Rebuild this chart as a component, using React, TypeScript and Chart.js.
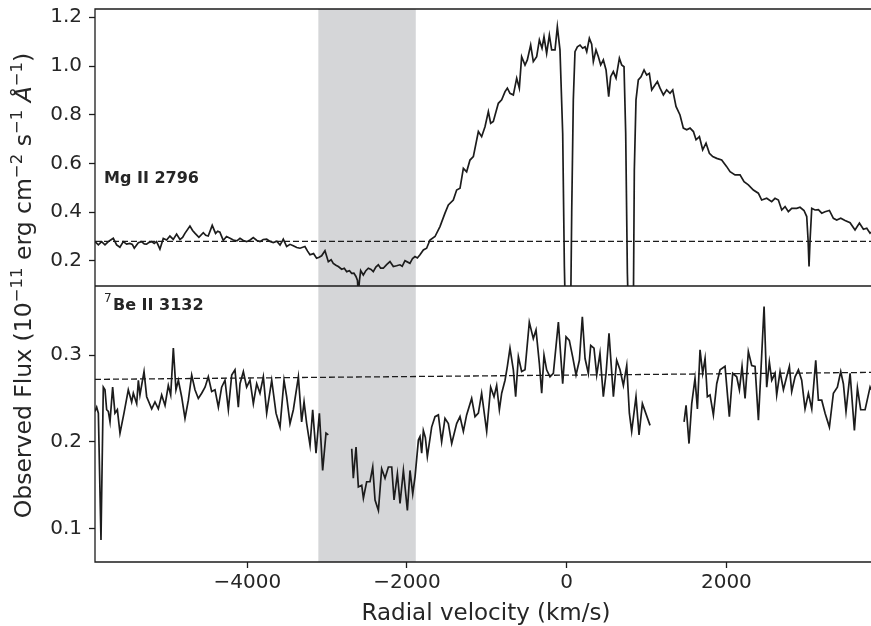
import React, { useEffect, useRef } from "react";
import { Chart, registerables } from "chart.js";

Chart.register(...registerables);

// Mg II 2796 profile (top panel)
const mgVel = [
  -5907, -5865, -5824, -5782, -5750, -5720, -5678, -5636, -5595, -5553, -5511, -5470, -5440, -5415, -5365,
  -5324, -5290, -5261, -5230, -5198, -5165, -5136, -5094, -5052, -5010, -4969, -4927, -4885, -4843, -4810,
  -4781, -4718, -4685, -4656, -4606, -4551, -4520, -4489, -4439, -4397, -4370, -4343, -4301, -4260, -4216,
  -4175, -4130, -4091, -4050, -4008, -3965, -3925, -3880, -3841, -3800, -3757, -3715, -3674, -3630, -3590,
  -3549, -3507, -3465, -3424, -3380, -3340, -3278, -3245, -3215, -3170, -3132, -3100, -3069, -3027, -2985,
  -2950, -2923, -2890, -2860, -2818, -2785, -2755, -2720, -2693, -2665, -2639, -2620, -2610, -2595, -2580,
  -2547, -2515, -2484, -2450, -2422, -2390, -2359, -2330, -2297, -2255, -2213, -2171, -2130, -2088, -2060,
  -2025, -1963, -1930, -1900, -1870, -1837, -1795, -1754, -1712, -1649, -1587, -1524, -1482, -1420, -1378,
  -1336, -1294, -1253, -1211, -1169, -1106, -1065, -1023, -981, -952, -919, -856, -814, -772, -743,
  -710, -668, -626, -593, -564, -522, -493, -451, -418, -376, -342, -309, -284, -251, -217,
  -188, -146, -117, -84, -50, -29, -17, 50, 63, 83, 104, 134, 167, 200, 230,
  251, 284, 313, 334, 367, 397, 426, 459, 493, 526, 551, 584, 618, 660, 689,
  718, 739, 760, 772, 835, 847, 868, 897, 931, 969, 1002, 1035, 1065, 1106, 1136,
  1169, 1211, 1252, 1294, 1328, 1369, 1419, 1461, 1503, 1545, 1587, 1620, 1662, 1703, 1745,
  1787, 1829, 1879, 1941, 2004, 2046, 2108, 2171, 2221, 2275, 2338, 2400, 2442, 2505, 2567,
  2609, 2651, 2693, 2735, 2776, 2818, 2881, 2922, 2972, 3006, 3023, 3035, 3048, 3069, 3110,
  3152, 3194, 3235, 3290, 3340, 3382, 3432, 3486, 3549, 3611, 3666, 3716, 3758, 3799, 3811,
];
const mgFlux = [
  0.279, 0.266, 0.279, 0.266, 0.276, 0.284, 0.293, 0.266, 0.256, 0.279, 0.269, 0.272, 0.268, 0.252, 0.275,
  0.279, 0.27, 0.269, 0.276, 0.279, 0.272, 0.279, 0.248, 0.292, 0.286, 0.302, 0.288, 0.31, 0.288, 0.296,
  0.313, 0.343, 0.325, 0.314, 0.297, 0.316, 0.305, 0.302, 0.346, 0.313, 0.322, 0.318, 0.284, 0.3, 0.293,
  0.286, 0.282, 0.293, 0.284, 0.279, 0.286, 0.296, 0.284, 0.279, 0.288, 0.289, 0.28, 0.275, 0.281, 0.265,
  0.289, 0.259, 0.268, 0.262, 0.255, 0.252, 0.259, 0.24, 0.225, 0.23, 0.211, 0.215, 0.221, 0.242, 0.197,
  0.205, 0.19, 0.182, 0.177, 0.166, 0.17, 0.156, 0.16, 0.149, 0.15, 0.136, 0.12, 0.06, 0.12, 0.16,
  0.142, 0.16, 0.17, 0.165, 0.156, 0.175, 0.184, 0.17, 0.17, 0.185, 0.197, 0.177, 0.18, 0.184, 0.178,
  0.201, 0.19, 0.21, 0.218, 0.212, 0.225, 0.245, 0.252, 0.286, 0.3, 0.341, 0.396, 0.43, 0.45, 0.491,
  0.498, 0.58, 0.566, 0.614, 0.628, 0.731, 0.71, 0.751, 0.813, 0.765, 0.772, 0.847, 0.861, 0.895, 0.909,
  0.888, 0.881, 0.95, 0.909, 1.038, 1.004, 1.025, 1.086, 1.018, 1.038, 1.107, 1.073, 1.12, 1.052, 1.127,
  1.066, 1.066, 1.161, 1.066, 0.724, 0.177, 0.0, 0.0, 0.4, 0.861, 1.059, 1.079, 1.086, 1.073, 1.079,
  1.059, 1.114, 1.09, 1.018, 1.066, 1.038, 1.004, 1.025, 0.984, 0.874, 0.956, 0.977, 0.95, 1.032, 1.004,
  0.997, 0.724, 0.15, 0.0, 0.0, 0.57, 0.861, 0.943, 0.956, 0.984, 0.963, 0.97, 0.902, 0.922, 0.936,
  0.909, 0.881, 0.902, 0.888, 0.902, 0.834, 0.799, 0.745, 0.738, 0.745, 0.731, 0.697, 0.71, 0.656, 0.683,
  0.642, 0.628, 0.621, 0.614, 0.587, 0.566, 0.553, 0.553, 0.525, 0.512, 0.491, 0.478, 0.45, 0.457, 0.443,
  0.457, 0.45, 0.409, 0.423, 0.402, 0.416, 0.416, 0.42, 0.407, 0.382, 0.286, 0.177, 0.286, 0.416, 0.409,
  0.41, 0.396, 0.402, 0.407, 0.375, 0.368, 0.375, 0.366, 0.357, 0.327, 0.355, 0.33, 0.334, 0.314, 0.318,
];

// 7Be II 3132 profile (bottom panel), null = no data
const beVel = [
  -5907, -5886, -5865, -5832, -5803, -5782, -5761, -5740, -5719, -5686, -5657, -5627, -5594, -5544, -5490,
  -5448, -5427, -5385, -5364, -5344, -5293, -5260, -5197, -5156, -5114, -5072, -5030, -4989, -4959, -4926,
  -4893, -4863, -4822, -4780, -4738, -4696, -4655, -4613, -4571, -4529, -4488, -4446, -4404, -4362, -4321,
  -4279, -4237, -4195, -4154, -4112, -4091, -4049, -4008, -3966, -3924, -3882, -3841, -3799, -3757, -3694,
  -3640, -3590, -3540, -3507, -3465, -3423, -3360, -3319, -3289, -3256, -3214, -3181, -3139, -3097, -3056,
  -3014, -2985, -2850, -2692, -2672, -2638, -2609, -2567, -2546, -2505, -2463, -2429, -2400, -2358, -2317,
  -2275, -2233, -2191, -2162, -2120, -2087, -2045, -1995, -1962, -1928, -1899, -1857, -1837, -1816, -1795,
  -1770, -1745, -1691, -1649, -1607, -1566, -1524, -1482, -1440, -1378, -1336, -1294, -1253, -1190, -1148,
  -1106, -1065, -1002, -952, -910, -877, -843, -814, -772, -743, -710, -668, -639, -605, -564,
  -522, -468, -418, -384, -342, -313, -284, -251, -209, -167, -104, -50, -8, 33, 75,
  117, 159, 196, 230, 271, 301, 342, 376, 417, 459, 493, 530, 585, 626, 668,
  710, 752, 785, 814, 868, 906, 948, 1044, 1250, 1470, 1495, 1532, 1566, 1607, 1637,
  1670, 1703, 1733, 1762, 1795, 1837, 1879, 1921, 1983, 2037, 2079, 2129, 2163, 2196, 2234,
  2275, 2317, 2359, 2401, 2430, 2472, 2505, 2538, 2568, 2609, 2630, 2672, 2714, 2755, 2789,
  2818, 2860, 2902, 2943, 2985, 3027, 3069, 3119, 3152, 3194, 3236, 3290, 3340, 3390, 3432,
  3465, 3498, 3549, 3603, 3641, 3682, 3737, 3799, 3811,
];
const beFlux = [
  0.235, 0.24, 0.233, 0.087, 0.263, 0.26, 0.237, 0.235, 0.223, 0.263, 0.233, 0.237, 0.21, 0.233, 0.26,
  0.246, 0.256, 0.244, 0.271, 0.254, 0.281, 0.252, 0.238, 0.246, 0.238, 0.254, 0.242, 0.265, 0.254, 0.308,
  0.26, 0.271, 0.252, 0.227, 0.248, 0.277, 0.26, 0.25, 0.256, 0.263, 0.275, 0.258, 0.26, 0.24, 0.263,
  0.271, 0.237, 0.277, 0.283, 0.24, 0.267, 0.281, 0.263, 0.271, 0.244, 0.267, 0.256, 0.275, 0.233, 0.271,
  0.233, 0.217, 0.271, 0.252, 0.221, 0.237, 0.275, 0.223, 0.246, 0.221, 0.196, 0.237, 0.187, 0.233, 0.167,
  0.21, 0.208, null, 0.192, 0.158, 0.194, 0.148, 0.15, 0.135, 0.154, 0.154, 0.171, 0.133, 0.121, 0.169,
  0.158, 0.171, 0.171, 0.133, 0.163, 0.129, 0.167, 0.121, 0.167, 0.14, 0.16, 0.202, 0.206, 0.187, 0.213,
  0.205, 0.183, 0.217, 0.229, 0.231, 0.2, 0.227, 0.221, 0.198, 0.221, 0.229, 0.212, 0.231, 0.25, 0.229,
  0.233, 0.256, 0.212, 0.263, 0.252, 0.265, 0.237, 0.256, 0.271, 0.287, 0.308, 0.283, 0.252, 0.298, 0.281,
  0.283, 0.338, 0.319, 0.329, 0.29, 0.256, 0.3, 0.283, 0.275, 0.279, 0.338, 0.267, 0.321, 0.317, 0.298,
  0.277, 0.294, 0.344, 0.296, 0.279, 0.311, 0.308, 0.277, 0.302, 0.252, 0.279, 0.325, 0.252, 0.294, 0.283,
  0.265, 0.288, 0.233, 0.212, 0.252, 0.208, 0.244, 0.219, null, 0.223, 0.242, 0.198, 0.244, 0.273, 0.238,
  0.306, 0.279, 0.296, 0.252, 0.254, 0.231, 0.267, 0.283, 0.287, 0.229, 0.279, 0.275, 0.26, 0.287, 0.25,
  0.304, 0.288, 0.287, 0.225, 0.277, 0.356, 0.263, 0.292, 0.271, 0.279, 0.254, 0.281, 0.26, 0.275, 0.287,
  0.258, 0.275, 0.283, 0.271, 0.238, 0.256, 0.238, 0.294, 0.248, 0.248, 0.233, 0.217, 0.256, 0.263, 0.281,
  0.267, 0.235, 0.279, 0.213, 0.262, 0.237, 0.237, 0.263, 0.26,
];

const velRange = [-5907, 3811];
const mgRange = [0.097, 1.234];
const beRange = [0.0615, 0.3796];
const mgContinuum = [0.28, 0.28];
const beContinuum = [0.272, 0.28];
const shadeRange = [-3110, -1890];
const velTicks = [-4000, -2000, 0, 2000];
const mgTicks = [0.2, 0.4, 0.6, 0.8, 1.0, 1.2];
const beTicks = [0.1, 0.2, 0.3];

const INK = "#262626";
const LINE = "#1c1c1c";
const FONT = "'DejaVu Sans', sans-serif";

const yTitleParts = [
  { text: "Observed Flux (10", sup: false, italic: false },
  { text: "\u221211", sup: true, italic: false },
  { text: " erg cm", sup: false, italic: false },
  { text: "\u22122", sup: true, italic: false },
  { text: " s", sup: false, italic: false },
  { text: "\u22121", sup: true, italic: false },
  { text: " ", sup: false, italic: false },
  { text: "\u00c5", sup: false, italic: true },
  { text: "\u22121", sup: true, italic: false },
  { text: ")", sup: false, italic: false },
];

const decorations = {
  id: "decorations",
  beforeDatasetsDraw(chart: any) {
    const { ctx, chartArea, scales } = chart;
    const l = scales.x.getPixelForValue(shadeRange[0]);
    const r = scales.x.getPixelForValue(shadeRange[1]);
    ctx.save();
    ctx.fillStyle = "#d5d6d8";
    ctx.fillRect(l, chartArea.top, r - l, chartArea.bottom - chartArea.top);
    ctx.restore();
  },
  afterDraw(chart: any) {
    const { ctx, chartArea, scales } = chart;
    const { left, right, top, bottom } = chartArea;
    const topPanel = scales.yMg.top <= scales.yBe.top ? scales.yMg : scales.yBe;
    const lowPanel = topPanel === scales.yMg ? scales.yBe : scales.yMg;
    const mid = topPanel.bottom;

    ctx.save();
    ctx.strokeStyle = LINE;
    ctx.lineWidth = 1.3;
    ctx.beginPath();
    ctx.moveTo(left, top);
    ctx.lineTo(right, top);
    ctx.moveTo(left, mid);
    ctx.lineTo(right, mid);
    ctx.moveTo(left, bottom);
    ctx.lineTo(right, bottom);
    ctx.moveTo(left, top - 0.65);
    ctx.lineTo(left, bottom + 0.65);
    ctx.stroke();

    // panel labels
    ctx.fillStyle = INK;
    ctx.textBaseline = "alphabetic";
    ctx.textAlign = "left";
    ctx.font = `bold 16px ${FONT}`;
    ctx.fillText("Mg II 2796", left + 9, topPanel.top + 174);
    ctx.font = `12px ${FONT}`;
    ctx.fillText("7", left + 9, lowPanel.top + 16);
    ctx.font = `bold 16px ${FONT}`;
    ctx.fillText("Be II 3132", left + 18, lowPanel.top + 24);

    // x title
    ctx.font = `23px ${FONT}`;
    ctx.textAlign = "center";
    ctx.fillText("Radial velocity (km/s)", (left + right) / 2 + 3, 620);

    // y title with superscripts
    const main = 23.5;
    const small = 16.5;
    const fontFor = (p: any) =>
      `${p.italic ? "italic " : ""}${p.sup ? small : main}px ${FONT}`;
    let total = 0;
    for (const p of yTitleParts) {
      ctx.font = fontFor(p);
      total += ctx.measureText(p.text).width;
    }
    ctx.translate(31, (top + bottom) / 2);
    ctx.rotate(-Math.PI / 2);
    ctx.textAlign = "left";
    let x = -total / 2;
    for (const p of yTitleParts) {
      ctx.font = fontFor(p);
      ctx.fillText(p.text, x, p.sup ? -9 : 0);
      x += ctx.measureText(p.text).width;
    }
    ctx.restore();
  },
};

const fmtVel = (v: number) => (v < 0 ? "\u2212" + Math.abs(v) : String(v));

const axisGrid = {
  drawOnChartArea: false,
  drawTicks: true,
  tickLength: 6,
  tickWidth: 1.3,
  color: LINE,
};

const fitY = (s: any) => {
  s.width = 95;
  s.paddingTop = 0;
  s.paddingBottom = 0;
};

const App = () => {
  const canvasRef = useRef<HTMLCanvasElement | null>(null);

  useEffect(() => {
    if (!canvasRef.current) return;
    const mgPoints = mgVel.map((v, i) => ({ x: v, y: mgFlux[i] }));
    const bePoints = beVel.map((v, i) => ({ x: v, y: beFlux[i] }));
    const chart = new Chart(canvasRef.current, {
      type: "line",
      data: {
        datasets: [
          {
            data: mgPoints,
            yAxisID: "yMg",
            borderColor: LINE,
            borderWidth: 1.7,
            pointRadius: 0,
            tension: 0,
            spanGaps: false,
          },
          {
            data: velRange.map((v, i) => ({ x: v, y: mgContinuum[i] })),
            yAxisID: "yMg",
            borderColor: LINE,
            borderWidth: 1.3,
            borderDash: [6, 3],
            pointRadius: 0,
          },
          {
            data: bePoints,
            yAxisID: "yBe",
            borderColor: LINE,
            borderWidth: 1.7,
            pointRadius: 0,
            tension: 0,
            spanGaps: false,
          },
          {
            data: velRange.map((v, i) => ({ x: v, y: beContinuum[i] })),
            yAxisID: "yBe",
            borderColor: LINE,
            borderWidth: 1.3,
            borderDash: [6, 3],
            pointRadius: 0,
          },
        ],
      },
      options: {
        animation: false,
        responsive: true,
        maintainAspectRatio: false,
        parsing: false,
        layout: { padding: { top: 9, right: 0, bottom: 0, left: 0 } },
        plugins: {
          legend: { display: false },
          tooltip: { enabled: false },
        },
        scales: {
          x: {
            type: "linear",
            position: "bottom",
            min: velRange[0],
            max: velRange[1],
            afterBuildTicks: (s: any) => {
              s.ticks = velTicks.map((v) => ({ value: v }));
            },
            afterFit: (s: any) => {
              s.height = 64;
              s.paddingLeft = 0;
              s.paddingRight = 0;
            },
            ticks: {
              color: INK,
              font: { family: FONT, size: 20 },
              padding: 3,
              maxRotation: 0,
              callback: (v: any) => fmtVel(Number(v)),
            },
            grid: axisGrid,
            border: { display: false },
          },
          yBe: {
            type: "linear",
            position: "left",
            stack: "panels",
            stackWeight: 276,
            min: beRange[0],
            max: beRange[1],
            afterBuildTicks: (s: any) => {
              s.ticks = beTicks.map((v) => ({ value: v }));
            },
            afterFit: fitY,
            ticks: {
              color: INK,
              font: { family: FONT, size: 20 },
              padding: 7,
              callback: (v: any) => Number(v).toFixed(1),
            },
            grid: axisGrid,
            border: { display: false },
          },
          yMg: {
            type: "linear",
            position: "left",
            stack: "panels",
            stackWeight: 277,
            min: mgRange[0],
            max: mgRange[1],
            afterBuildTicks: (s: any) => {
              s.ticks = mgTicks.map((v) => ({ value: v }));
            },
            afterFit: fitY,
            ticks: {
              color: INK,
              font: { family: FONT, size: 20 },
              padding: 7,
              callback: (v: any) => Number(v).toFixed(1),
            },
            grid: axisGrid,
            border: { display: false },
          },
        },
      },
      plugins: [decorations],
    });
    return () => chart.destroy();
  }, []);

  return (
    <div style={{ position: "fixed", left: 0, top: 0, width: 871, height: 626, background: "#fff" }}>
      <canvas ref={canvasRef} />
    </div>
  );
};

export default App;
